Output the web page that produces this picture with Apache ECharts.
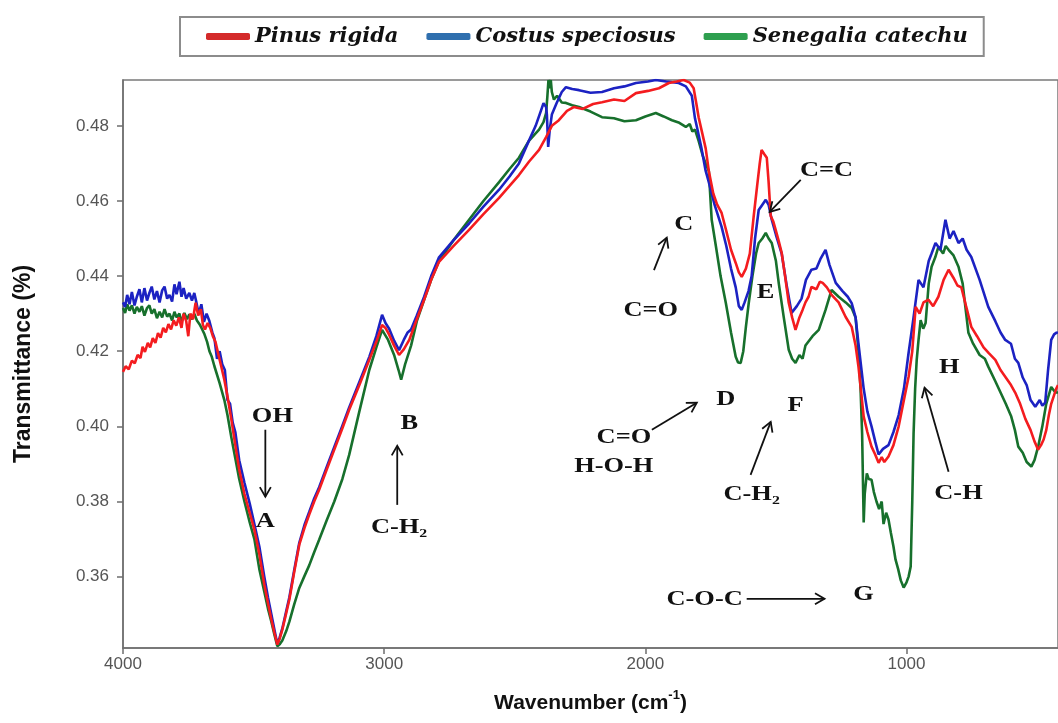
<!DOCTYPE html>
<html>
<head>
<meta charset="utf-8">
<script src="https://cdn.jsdelivr.net/npm/echarts@6/dist/echarts.min.js"></script>
<style>html,body{margin:0;padding:0;background:#fff;}#chart{width:1058px;height:723px;}</style>
</head>
<body>
<div id="chart"></div>
<script>
const seriesNames = ['Pinus rigida', 'Costus speciosus', 'Senegalia catechu'];
const xTicks = [1000, 2000, 3000, 4000];
const yTicks = [0.36, 0.38, 0.40, 0.42, 0.44, 0.46, 0.48];

const pinusRigida = [
[4000,0.4145],[3990,0.4160],[3978,0.4152],[3966,0.4175],[3955,0.4168],[3944,0.4190],[3933,0.4182],[3925,0.4212],[3916,0.4198],[3905,0.4222],[3896,0.4210],[3886,0.4235],[3876,0.4222],[3866,0.4248],[3856,0.4236],[3846,0.4262],[3836,0.4250],[3826,0.4272],[3816,0.4258],[3806,0.4282],[3796,0.4268],[3786,0.4290],[3776,0.4262],[3768,0.4300],[3758,0.4280],[3750,0.4240],[3742,0.4300],[3732,0.4285],[3722,0.4329],[3712,0.4295],[3702,0.4312],[3694,0.4270],[3686,0.4258],[3676,0.4275],[3666,0.4262],[3656,0.4240],[3646,0.4225],[3636,0.4195],[3624,0.4160],[3612,0.4124],[3600,0.4080],[3585,0.4018],[3570,0.3950],[3555,0.3885],[3535,0.3820],[3515,0.3770],[3497,0.3725],[3478,0.3660],[3459,0.3579],[3445,0.3530],[3432,0.3486],[3420,0.3450],[3409,0.3419],[3400,0.3435],[3390,0.3459],[3376,0.3500],[3363,0.3539],[3345,0.3610],[3325,0.3685],[3305,0.3730],[3287,0.3765],[3268,0.3800],[3249,0.3831],[3220,0.3885],[3191,0.3938],[3160,0.3995],[3134,0.4044],[3095,0.4110],[3057,0.4177],[3030,0.4225],[3008,0.4270],[2995,0.4262],[2981,0.4244],[2962,0.4215],[2943,0.4190],[2925,0.4205],[2904,0.4230],[2875,0.4285],[2847,0.4337],[2820,0.4390],[2790,0.4438],[2735,0.4480],[2675,0.4523],[2620,0.4565],[2560,0.4608],[2520,0.4640],[2484,0.4669],[2445,0.4705],[2407,0.4736],[2380,0.4770],[2358,0.4800],[2331,0.4815],[2300,0.4840],[2274,0.4850],[2240,0.4845],[2200,0.4858],[2166,0.4863],[2120,0.4870],[2080,0.4866],[2036,0.4887],[1990,0.4893],[1948,0.4900],[1910,0.4914],[1880,0.4918],[1853,0.4922],[1830,0.4915],[1815,0.4900],[1805,0.4860],[1796,0.4823],[1782,0.4780],[1769,0.4740],[1757,0.4680],[1740,0.4620],[1725,0.4590],[1708,0.4568],[1690,0.4520],[1672,0.4470],[1654,0.4435],[1642,0.4410],[1631,0.4398],[1615,0.4420],[1600,0.4460],[1585,0.4560],[1572,0.4640],[1562,0.4700],[1555,0.4736],[1545,0.4725],[1535,0.4715],[1528,0.4650],[1520,0.4560],[1510,0.4545],[1501,0.4523],[1490,0.4495],[1478,0.4462],[1465,0.4400],[1451,0.4329],[1438,0.4290],[1425,0.4257],[1410,0.4290],[1398,0.4310],[1387,0.4330],[1375,0.4345],[1364,0.4371],[1345,0.4365],[1332,0.4385],[1321,0.4382],[1305,0.4370],[1287,0.4350],[1260,0.4330],[1233,0.4291],[1210,0.4265],[1195,0.4215],[1184,0.4159],[1175,0.4100],[1164,0.4026],[1150,0.3985],[1134,0.3946],[1120,0.3925],[1107,0.3903],[1095,0.3918],[1085,0.3905],[1069,0.3920],[1050,0.3950],[1030,0.4000],[1010,0.4070],[992,0.4132],[978,0.4200],[965,0.4318],[950,0.4300],[935,0.4330],[916,0.4337],[898,0.4320],[878,0.4345],[858,0.4390],[839,0.4417],[820,0.4395],[805,0.4375],[790,0.4370],[772,0.4320],[752,0.4265],[730,0.4240],[705,0.4210],[685,0.4195],[660,0.4177],[640,0.4150],[620,0.4130],[600,0.4110],[584,0.4090],[565,0.4060],[545,0.4020],[525,0.3990],[510,0.3960],[496,0.3938],[485,0.3950],[475,0.3965],[465,0.3990],[455,0.4030],[446,0.4060],[427,0.4100],[420,0.4110]
];

const costusSpeciosus = [
[4000,0.4330],[3992,0.4318],[3984,0.4350],[3975,0.4325],[3966,0.4358],[3956,0.4322],[3947,0.4345],[3937,0.4365],[3928,0.4330],[3918,0.4368],[3908,0.4335],[3899,0.4355],[3890,0.4372],[3880,0.4338],[3870,0.4360],[3860,0.4330],[3850,0.4362],[3841,0.4372],[3831,0.4340],[3822,0.4350],[3812,0.4332],[3803,0.4378],[3795,0.4352],[3784,0.4385],[3776,0.4345],[3768,0.4368],[3758,0.4340],[3746,0.4355],[3736,0.4335],[3727,0.4355],[3719,0.4330],[3710,0.4300],[3700,0.4325],[3690,0.4278],[3680,0.4300],[3670,0.4282],[3658,0.4250],[3650,0.4235],[3640,0.4180],[3630,0.4200],[3620,0.4165],[3610,0.4150],[3600,0.4070],[3590,0.4060],[3580,0.4010],[3570,0.3985],[3555,0.3910],[3535,0.3850],[3515,0.3795],[3497,0.3740],[3478,0.3680],[3459,0.3600],[3445,0.3545],[3432,0.3500],[3420,0.3458],[3409,0.3420],[3400,0.3438],[3390,0.3462],[3376,0.3505],[3363,0.3545],[3345,0.3615],[3325,0.3690],[3305,0.3738],[3287,0.3772],[3268,0.3808],[3249,0.3838],[3220,0.3892],[3191,0.3945],[3160,0.4002],[3134,0.4050],[3095,0.4118],[3057,0.4185],[3030,0.4240],[3008,0.4297],[2995,0.4275],[2981,0.4260],[2962,0.4228],[2943,0.4203],[2925,0.4230],[2910,0.4250],[2897,0.4258],[2875,0.4295],[2847,0.4345],[2820,0.4400],[2790,0.4450],[2735,0.4495],[2675,0.4540],[2620,0.4585],[2560,0.4630],[2520,0.4665],[2484,0.4700],[2446,0.4760],[2420,0.4800],[2400,0.4840],[2390,0.4860],[2380,0.4850],[2377,0.4830],[2372,0.4744],[2366,0.4790],[2358,0.4830],[2340,0.4860],[2320,0.4890],[2304,0.4903],[2280,0.4898],[2254,0.4895],[2210,0.4888],[2166,0.4890],[2120,0.4900],[2080,0.4905],[2036,0.4914],[1990,0.4918],[1960,0.4922],[1920,0.4918],[1872,0.4914],[1845,0.4905],[1822,0.4880],[1810,0.4820],[1800,0.4789],[1785,0.4740],[1769,0.4680],[1757,0.4650],[1735,0.4590],[1708,0.4531],[1690,0.4480],[1672,0.4420],[1654,0.4370],[1642,0.4320],[1631,0.4310],[1620,0.4330],[1605,0.4360],[1593,0.4400],[1580,0.4500],[1566,0.4576],[1552,0.4590],[1539,0.4603],[1528,0.4590],[1516,0.4550],[1500,0.4510],[1478,0.4460],[1460,0.4380],[1440,0.4302],[1420,0.4320],[1402,0.4340],[1385,0.4390],[1364,0.4417],[1345,0.4420],[1330,0.4445],[1310,0.4470],[1295,0.4430],[1271,0.4382],[1245,0.4360],[1225,0.4345],[1210,0.4328],[1195,0.4290],[1184,0.4220],[1164,0.4100],[1150,0.4040],[1134,0.4000],[1120,0.3960],[1107,0.3925],[1090,0.3940],[1069,0.3950],[1050,0.3985],[1030,0.4030],[1010,0.4100],[992,0.4196],[975,0.4280],[954,0.4390],[935,0.4370],[915,0.4440],[904,0.4460],[889,0.4488],[870,0.4470],[851,0.4550],[835,0.4500],[820,0.4520],[801,0.4488],[785,0.4500],[770,0.4470],[752,0.4451],[720,0.4390],[687,0.4318],[660,0.4280],[640,0.4250],[622,0.4230],[600,0.4220],[585,0.4180],[572,0.4169],[555,0.4130],[540,0.4110],[525,0.4070],[507,0.4052],[490,0.4070],[480,0.4055],[469,0.4063],[458,0.4150],[446,0.4230],[435,0.4245],[427,0.4249],[420,0.4250]
];

const senegaliaCatechu = [
[4000,0.4315],[3992,0.4302],[3984,0.4325],[3975,0.4308],[3966,0.4322],[3956,0.4300],[3947,0.4318],[3937,0.4305],[3928,0.4320],[3918,0.4295],[3908,0.4315],[3899,0.4322],[3890,0.4300],[3880,0.4312],[3870,0.4288],[3860,0.4305],[3850,0.4290],[3841,0.4312],[3831,0.4292],[3822,0.4300],[3812,0.4282],[3803,0.4305],[3795,0.4290],[3784,0.4300],[3776,0.4278],[3765,0.4302],[3755,0.4285],[3746,0.4298],[3736,0.4285],[3727,0.4300],[3717,0.4282],[3707,0.4272],[3698,0.4260],[3688,0.4245],[3678,0.4225],[3669,0.4200],[3660,0.4185],[3650,0.4160],[3630,0.4115],[3612,0.4070],[3600,0.4030],[3585,0.3970],[3570,0.3915],[3555,0.3860],[3535,0.3800],[3515,0.3745],[3497,0.3700],[3478,0.3620],[3459,0.3560],[3445,0.3515],[3432,0.3480],[3420,0.3445],[3409,0.3415],[3400,0.3420],[3390,0.3430],[3375,0.3455],[3363,0.3480],[3345,0.3525],[3325,0.3570],[3305,0.3602],[3287,0.3630],[3268,0.3665],[3249,0.3698],[3220,0.3750],[3191,0.3800],[3160,0.3860],[3134,0.3924],[3095,0.4040],[3057,0.4150],[3030,0.4210],[3008,0.4257],[2985,0.4230],[2962,0.4190],[2945,0.4150],[2935,0.4124],[2920,0.4165],[2897,0.4215],[2875,0.4280],[2847,0.4337],[2820,0.4390],[2790,0.4440],[2735,0.4495],[2675,0.4550],[2620,0.4600],[2560,0.4650],[2520,0.4685],[2484,0.4715],[2446,0.4760],[2407,0.4790],[2390,0.4810],[2380,0.4834],[2375,0.4880],[2371,0.4922],[2366,0.4900],[2362,0.4922],[2358,0.4890],[2350,0.4870],[2338,0.4880],[2320,0.4862],[2304,0.4861],[2280,0.4855],[2254,0.4850],[2210,0.4838],[2166,0.4823],[2120,0.4820],[2080,0.4812],[2036,0.4815],[2000,0.4825],[1960,0.4834],[1930,0.4825],[1898,0.4815],[1870,0.4808],[1845,0.4797],[1830,0.4805],[1820,0.4785],[1810,0.4790],[1796,0.4760],[1780,0.4720],[1769,0.4700],[1757,0.4680],[1746,0.4550],[1730,0.4480],[1712,0.4400],[1692,0.4329],[1672,0.4250],[1654,0.4185],[1645,0.4170],[1635,0.4169],[1625,0.4200],[1615,0.4265],[1604,0.4329],[1590,0.4400],[1576,0.4460],[1566,0.4488],[1552,0.4500],[1539,0.4515],[1528,0.4500],[1516,0.4488],[1500,0.4440],[1489,0.4380],[1470,0.4290],[1451,0.4204],[1438,0.4180],[1425,0.4169],[1410,0.4190],[1398,0.4180],[1387,0.4215],[1360,0.4240],[1336,0.4257],[1310,0.4310],[1287,0.4363],[1260,0.4345],[1233,0.4330],[1210,0.4315],[1195,0.4290],[1184,0.4200],[1176,0.4100],[1170,0.3980],[1164,0.3744],[1160,0.3820],[1152,0.3875],[1145,0.3860],[1134,0.3858],[1125,0.3825],[1115,0.3800],[1105,0.3780],[1095,0.3800],[1088,0.3740],[1078,0.3770],[1069,0.3752],[1060,0.3717],[1050,0.3680],[1042,0.3645],[1032,0.3620],[1022,0.3590],[1011,0.3571],[1000,0.3585],[992,0.3600],[984,0.3627],[978,0.3800],[973,0.3980],[967,0.4100],[961,0.4177],[954,0.4230],[946,0.4283],[936,0.4260],[927,0.4275],[915,0.4380],[904,0.4425],[890,0.4450],[878,0.4478],[860,0.4460],[850,0.4480],[839,0.4470],[820,0.4455],[801,0.4425],[785,0.4380],[775,0.4320],[763,0.4249],[745,0.4220],[720,0.4190],[700,0.4180],[687,0.4159],[660,0.4120],[640,0.4090],[620,0.4060],[599,0.4026],[585,0.3990],[572,0.3946],[555,0.3930],[540,0.3905],[522,0.3893],[510,0.3910],[496,0.3946],[480,0.4000],[465,0.4060],[446,0.4105],[435,0.4095],[427,0.4090],[420,0.4090]
];

// annotation anchors in data space: [text, wavenumber, transmittance]
const annotationTexts = [
  ['OH', 3428, 0.4028], ['A', 3455, 0.3746], ['B', 2904, 0.4007], ['C-H\u2082', 2943, 0.3730],
  ['C', 1853, 0.4539], ['C=O', 1979, 0.4310], ['D', 1692, 0.4071], ['C=O', 2082, 0.3972],
  ['H-O-H', 2121, 0.3893], ['E', 1540, 0.4358], ['C=C', 1306, 0.4682], ['F', 1425, 0.4055],
  ['C-H\u2082', 1593, 0.3818], ['G', 1165, 0.3552], ['C-O-C', 1773, 0.3539], ['H', 836, 0.4156],
  ['C-H', 801, 0.3823]
];
// arrows in data space: [fromX, fromY, toX, toY]
const annotationArrows = [
  [3455, 0.3991, 3455, 0.3813], [2950, 0.3791, 2950, 0.3948], [1967, 0.4416, 1918, 0.4502],
  [1975, 0.3991, 1803, 0.4063], [1405, 0.4656, 1524, 0.4571], [1597, 0.3871, 1520, 0.4012],
  [1612, 0.3541, 1314, 0.3541], [839, 0.3879, 931, 0.4103]
];

const lineColors = ['#f41c1f', '#1c22c2', '#17702c'];
const legendColors = ['#d42a2a', '#2f6fae', '#2e9f4f'];
const seriesData = [pinusRigida, costusSpeciosus, senegaliaCatechu];

const chart = echarts.init(document.getElementById('chart'), null, {renderer: 'canvas'});

const drawOrder = [2, 1, 0];
const series = drawOrder.map(i => ({
  name: seriesNames[i],
  type: 'line',
  data: seriesData[i],
  symbol: 'none',
  showSymbol: false,
  smooth: false,
  lineStyle: {color: lineColors[i], width: 2.6},
  itemStyle: {color: legendColors[i]},
  emphasis: {disabled: true},
  z: 2
}));

chart.setOption({
  animation: false,
  backgroundColor: '#fff',
  legend: {
    data: seriesNames.map((n, i) => ({name: n, itemStyle: {color: legendColors[i]}})),
    left: 180, top: 17,
    padding: [9, 16, 9, 26],
    itemGap: 28,
    itemWidth: 44, itemHeight: 7,
    icon: 'roundRect',
    borderColor: '#8c8c8c', borderWidth: 2,
    selectedMode: false,
    textStyle: {fontFamily: 'DejaVu Serif', fontStyle: 'italic', fontWeight: 'bold', fontSize: 21, color: '#111'}
  },
  grid: {left: 123, right: -2, top: 80, bottom: 75, show: true, borderColor: '#7a7a7a', borderWidth: 1.5, containLabel: false},
  xAxis: {
    type: 'value', inverse: true, min: 420, max: 4000,
    axisLine: {show: true, onZero: false, lineStyle: {color: '#6e6e6e', width: 1.5}},
    axisTick: {show: true, customValues: xTicks, length: 6, lineStyle: {color: '#6e6e6e', width: 1.5}},
    axisLabel: {customValues: xTicks, formatter: v => String(v), color: '#555', fontSize: 17, fontFamily: 'Liberation Sans', margin: 8},
    splitLine: {show: false},
    name: '{a|Wavenumber (cm}{s|-1}{a|)}',
    nameLocation: 'middle', nameGap: 40,
    nameTextStyle: {
      rich: {
        a: {fontSize: 21, fontWeight: 'bold', fontFamily: 'Liberation Sans', color: '#111', verticalAlign: 'bottom', lineHeight: 26},
        s: {fontSize: 13, fontWeight: 'bold', fontFamily: 'Liberation Sans', color: '#111', verticalAlign: 'bottom', lineHeight: 26, padding: [0, 0, 12, 0]}
      }
    }
  },
  yAxis: {
    type: 'value', min: 0.341, max: 0.4922,
    axisLine: {show: true, lineStyle: {color: '#6e6e6e', width: 1.5}},
    axisTick: {show: true, customValues: yTicks, length: 6, lineStyle: {color: '#6e6e6e', width: 1.5}},
    axisLabel: {customValues: yTicks, formatter: v => v.toFixed(2), color: '#555', fontSize: 17, fontFamily: 'Liberation Sans', margin: 14},
    splitLine: {show: false},
    name: 'Transmittance (%)', nameLocation: 'middle', nameGap: 88, nameRotate: 90,
    nameTextStyle: {fontSize: 23, fontWeight: 'bold', fontFamily: 'Liberation Sans', color: '#111'}
  },
  series: series
});

function px(x, y) { return chart.convertToPixel({gridIndex: 0}, [x, y]); }

const graphics = [];
annotationTexts.forEach(([t, x, y]) => {
  const p = px(x, y);
  graphics.push({
    type: 'text', x: p[0], y: p[1], scaleX: 1.2, z: 20,
    style: {text: t, x: 0, y: 0, align: 'center', verticalAlign: 'middle', font: 'bold 22px "Liberation Serif"', fill: '#111'}
  });
});
annotationArrows.forEach(([x1, y1, x2, y2]) => {
  const a = px(x1, y1), b = px(x2, y2);
  const ang = Math.atan2(b[1] - a[1], b[0] - a[0]);
  const L = 11, w = Math.PI / 6;
  const h1 = [b[0] - L * Math.cos(ang - w), b[1] - L * Math.sin(ang - w)];
  const h2 = [b[0] - L * Math.cos(ang + w), b[1] - L * Math.sin(ang + w)];
  graphics.push({type: 'polyline', z: 20, shape: {points: [a, b]}, style: {stroke: '#111', lineWidth: 1.8, fill: null}});
  graphics.push({type: 'polyline', z: 20, shape: {points: [h1, b, h2]}, style: {stroke: '#111', lineWidth: 1.8, fill: null}});
});
chart.setOption({graphic: graphics});
</script>
</body>
</html>
